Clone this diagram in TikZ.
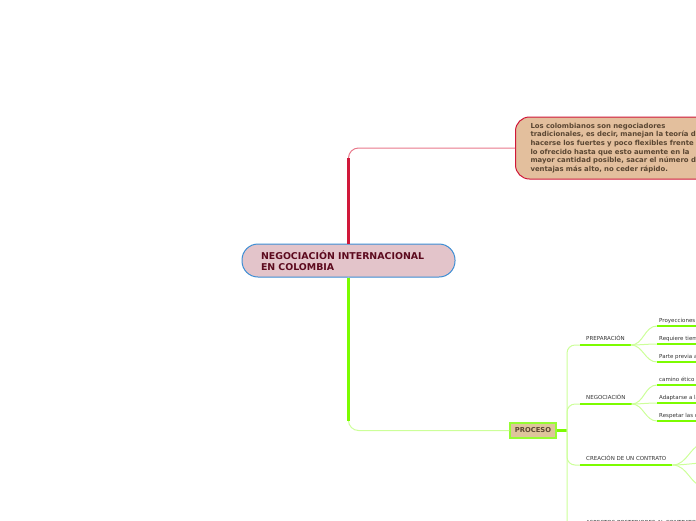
\documentclass[tikz,border=0pt]{standalone}
\usepackage{fontspec}
\setmainfont{DejaVu Sans}
\usetikzlibrary{positioning}
\definecolor{carmesi}{HTML}{D0183A}
\definecolor{rosado}{HTML}{E8788A}
\definecolor{azul}{HTML}{3C8DD4}
\definecolor{rosa}{HTML}{E3C4CA}
\definecolor{granate}{HTML}{5C0A1E}
\definecolor{beige}{HTML}{E3BF9D}
\definecolor{cafe}{HTML}{5A4632}
\definecolor{lima}{HTML}{7CFC00}
\definecolor{verdeclaro}{HTML}{CCFF99}
\definecolor{ocre}{HTML}{DEC59B}
\definecolor{gris}{HTML}{333333}

\begin{document}
\begin{tikzpicture}[x=1pt,y=-1pt,
  raiz/.style={draw=azul,fill=rosa,line width=1pt,rounded corners=16pt,minimum width=213pt,minimum height=33pt,
    inner sep=0pt,text width=175pt,align=left,text=granate,font=\fontsize{9.4}{11}\selectfont\bfseries},
  nota/.style={draw=carmesi,fill=beige,line width=1pt,rounded corners=14pt,minimum height=62pt,anchor=west,
    inner xsep=15pt,text width=235pt,align=left,text=cafe,font=\fontsize{6.9}{8.6}\selectfont\bfseries},
  proceso/.style={draw=lima!80!white,fill=ocre,line width=1.2pt,minimum width=46pt,minimum height=15pt,
    inner sep=0pt,text=cafe,font=\fontsize{6.8}{8}\selectfont\bfseries},
  sub/.style={anchor=south west,inner xsep=6pt,inner ysep=3pt,text height=4.2pt,text depth=1.2pt,
    text=gris,font=\fontsize{5.5}{6.5}\selectfont},
  hoja/.style={anchor=south west,inner xsep=2pt,inner ysep=2pt,text height=4.2pt,text depth=1.2pt,
    text=gris,font=\fontsize{5.5}{6.5}\selectfont},
  fina/.style={line width=1pt},
  gruesa/.style={line width=2.4pt}]
\useasboundingbox (0,0) rectangle (696,520);

% nodo central y nota
\node[raiz] (raiz) at (348.5,260.5) {NEGOCIACIÓN INTERNACIONAL\\EN COLOMBIA};
\node[nota] (nota) at (515,148) {Los colombianos son negociadores\\tradicionales, es decir, manejan la teoría de\\hacerse los fuertes y poco flexibles frente a\\lo ofrecido hasta que esto aumente en la\\mayor cantidad posible, sacar el número de\\ventajas más alto, no ceder rápido.};
\node[proceso] (proceso) at (533,430.5) {PROCESO};

\draw[fina,rosado,rounded corners=10pt] (raiz.north) |- (nota.west);
\draw[gruesa,carmesi] (raiz.north) -- ++(0,-86);
\draw[fina,verdeclaro,rounded corners=10pt] (raiz.south) |- (proceso.west);
\draw[gruesa,lima] (raiz.south) -- ++(0,143);

% ramas del proceso
\coordinate (tronco) at (567,430.5);
\draw[gruesa,lima] (proceso.east) -- (tronco);
\node[sub] (prep) at (580,345) {PREPARACIÓN};
\node[sub] (nego) at (580,404) {NEGOCIACIÓN};
\node[sub] (crea) at (580,465) {CREACIÓN DE UN CONTRATO};
\node[sub] (post) at (580,529) {ASPECTOS POSTERIORES AL CONTRATO};
\foreach \s in {prep,nego,crea,post} {
  \draw[fina,verdeclaro,rounded corners=8pt] (tronco) |- (\s.south west);
  \draw[gruesa,lima] (\s.south west) -- (\s.south east);
}

% hojas
\foreach \n/\p/\y/\t in {p1/prep/326/{Proyecciones y objetivos},p2/prep/344/{Requiere tiempo},p3/prep/362/{Parte previa a la negociación},
    n1/nego/385/{camino ético},n2/nego/403/{Adaptarse a la cultura},n3/nego/421/{Respetar las costumbres}} {
  \node[hoja] (\n) at (657,\y) {\t};
  \draw[fina,verdeclaro] (\p.south east) to[out=0,in=180] (\n.south west);
  \draw[gruesa,lima] (\n.south west) -- (\n.south east);
}
\foreach \n/\y in {c1/443,c2/463,c3/487} {
  \coordinate (\n) at (706,\y);
  \draw[fina,verdeclaro] (crea.south east) to[out=0,in=180] (\n);
}
\end{tikzpicture}
\end{document}
